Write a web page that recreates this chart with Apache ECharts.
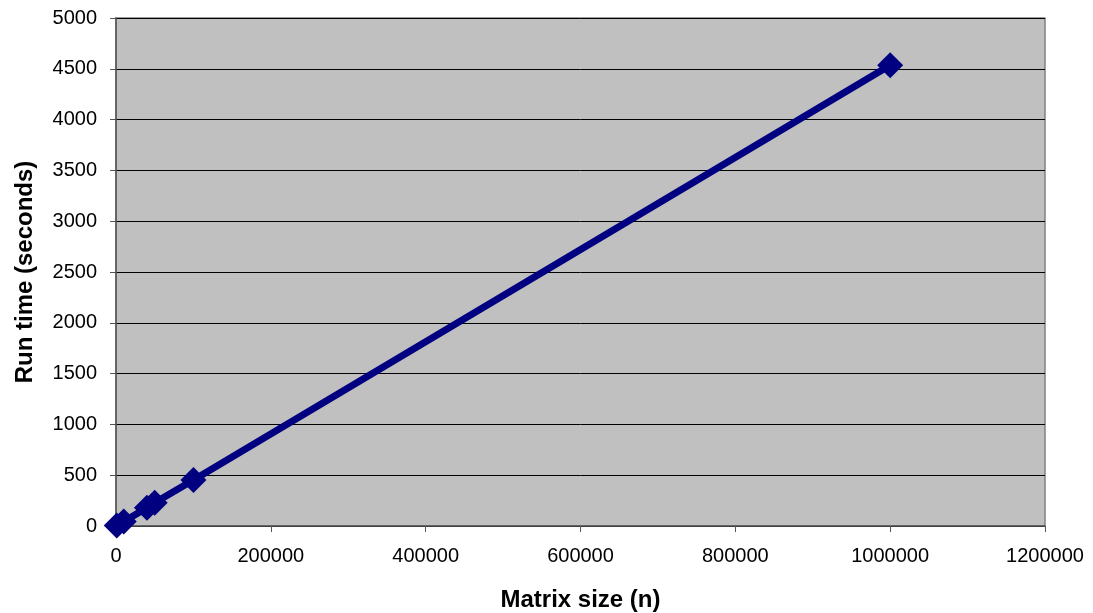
<!DOCTYPE html>
<html>
<head>
<meta charset="utf-8">
<script src="https://cdn.jsdelivr.net/npm/echarts@6/dist/echarts.min.js"></script>
<style>
  html, body { margin: 0; padding: 0; background: #ffffff; }
  #chart { width: 1093px; height: 613px; }
</style>
</head>
<body>
<div id="chart"></div>
<script>
// Matrix size (n) against measured run time (seconds)
const matrixSizes = [1000, 10000, 40000, 50000, 100000, 1000000];
const runTimes = [5, 45, 180, 228, 453, 4534];

const xAxisMax = 1200000;
const xAxisStep = 200000;
const yAxisMax = 5000;
const yAxisStep = 500;

const points = matrixSizes.map((n, i) => [n, runTimes[i]]);

// plain integers, no thousands separators
const plain = v => String(Math.round(v));

const chart = echarts.init(document.getElementById('chart'));
chart.setOption({
  animation: false,
  grid: {
    left: 116, right: 48, top: 18, bottom: 87,
    outerBoundsMode: 'none',
    containLabel: false,
    show: true,
    backgroundColor: '#C0C0C0',
    borderColor: '#808080',
    borderWidth: 1.5
  },
  xAxis: {
    type: 'value',
    min: 0, max: xAxisMax, interval: xAxisStep,
    name: 'Matrix size (n)',
    nameLocation: 'middle',
    nameGap: 62,
    nameTextStyle: { fontFamily: 'Liberation Sans', fontWeight: 'bold', fontSize: 24, color: '#000' },
    axisLine: { show: true, lineStyle: { color: '#555', width: 1.5 } },
    axisTick: { show: true, inside: false, length: 6, lineStyle: { color: '#555' } },
    axisLabel: { fontFamily: 'Liberation Sans', fontSize: 20, color: '#000', margin: 20, formatter: plain },
    splitLine: { show: false }
  },
  yAxis: {
    type: 'value',
    min: 0, max: yAxisMax, interval: yAxisStep,
    name: 'Run time (seconds)',
    nameLocation: 'middle',
    nameGap: 79,
    nameRotate: 90,
    nameTextStyle: { fontFamily: 'Liberation Sans', fontWeight: 'bold', fontSize: 24, color: '#000' },
    axisLine: { show: true, lineStyle: { color: '#555', width: 1.5 } },
    axisTick: { show: true, inside: false, length: 6, lineStyle: { color: '#555' } },
    axisLabel: { fontFamily: 'Liberation Sans', fontSize: 20, color: '#000', margin: 19, formatter: plain },
    splitLine: { show: true, lineStyle: { color: '#000', width: 1 } }
  },
  series: [{
    type: 'line',
    data: points,
    symbol: 'diamond',
    symbolSize: 26,
    itemStyle: { color: '#000080' },
    lineStyle: { color: '#000080', width: 7 },
    clip: false
  }]
});
</script>
</body>
</html>
